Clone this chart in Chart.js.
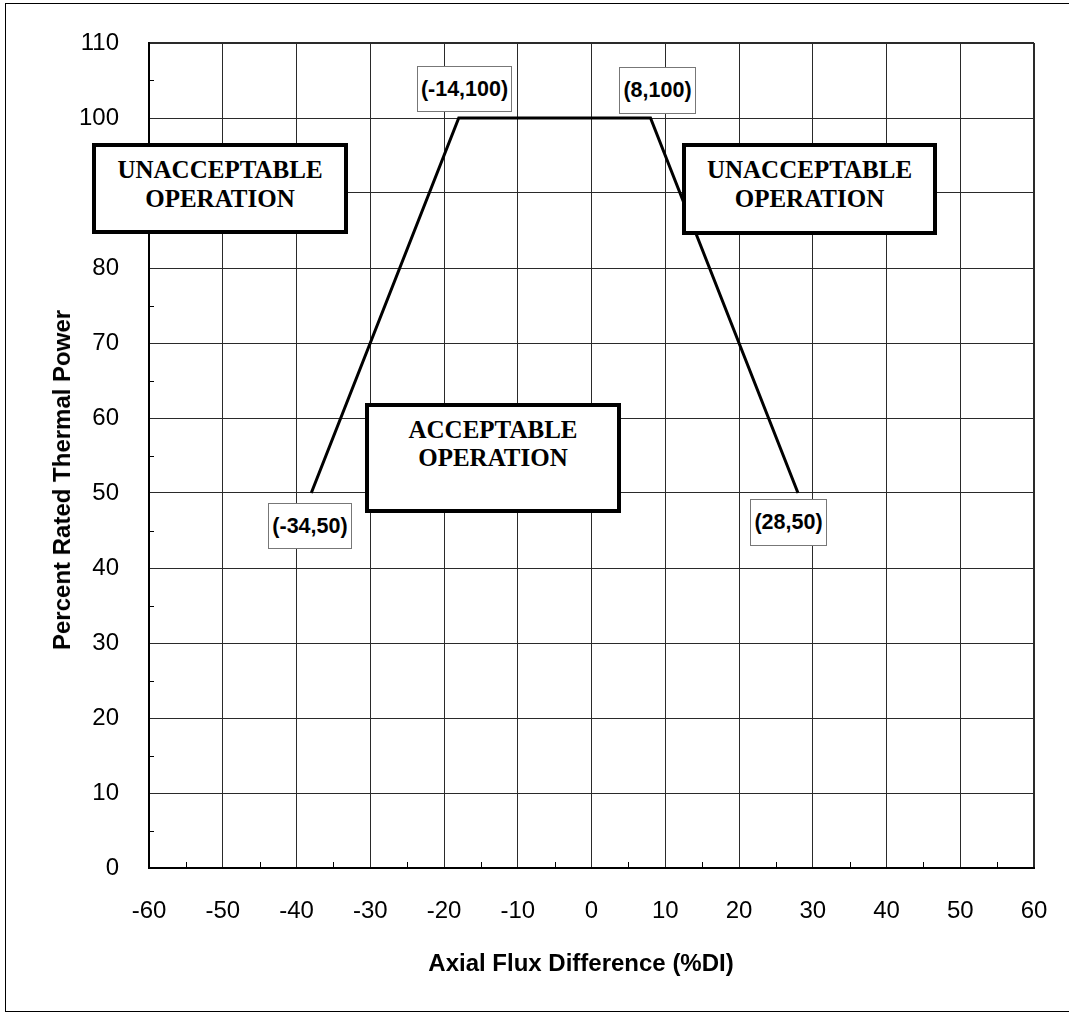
<!DOCTYPE html>
<html>
<head>
<meta charset="utf-8">
<script src="https://cdn.jsdelivr.net/npm/chart.js@4/dist/chart.umd.min.js"></script>
<style>
  html, body { margin: 0; padding: 0; background: #fff; overflow: hidden; }
  #wrap { position: relative; width: 1069px; height: 1015px; overflow: hidden; background: #fff; }
  #c { position: absolute; left: 0; top: 0; }
  .frame { position: absolute; left: 5px; top: 3px; width: 1090px; height: 1009px; border: 1.5px solid #000; box-sizing: border-box; pointer-events: none; }
  .region { position: absolute; box-sizing: border-box; border: 4px solid #000; background: #fff;
            font-family: "Liberation Serif", "Times New Roman", serif; font-weight: bold; font-size: 25px;
            line-height: 29px; text-align: center; color: #000; }
  .pt { position: absolute; box-sizing: border-box; border: 1px solid #777; background: #fff;
        font-family: "Liberation Sans", Arial, sans-serif; font-weight: bold; font-size: 21.5px;
        display: flex; align-items: center; justify-content: center; color: #000; white-space: nowrap; }
  .ttl { position: absolute; font-family: "Liberation Sans", Arial, sans-serif; font-weight: bold; font-size: 24px; color: #000; white-space: nowrap; }
</style>
</head>
<body>
<div id="wrap">
  <canvas id="c" width="1069" height="1015"></canvas>
  <div class="frame"></div>

  <div class="region" style="left:92px; top:143px; width:256px; height:91px; padding-top:8px;">UNACCEPTABLE<br>OPERATION</div>
  <div class="region" style="left:682px; top:143px; width:255px; height:92px; padding-top:8px;">UNACCEPTABLE<br>OPERATION</div>
  <div class="region" style="left:365px; top:403px; width:256px; height:110px; padding-top:9px; line-height:28px;">ACCEPTABLE<br>OPERATION</div>

  <div class="pt" style="left:417px; top:66px; width:95px; height:46px;">(-14,100)</div>
  <div class="pt" style="left:619px; top:67px; width:77px; height:47px;">(8,100)</div>
  <div class="pt" style="left:268px; top:503px; width:84px; height:46px;">(-34,50)</div>
  <div class="pt" style="left:750px; top:499px; width:77px; height:47px;">(28,50)</div>

  <div class="ttl" id="xt" style="left:581px; top:963px; transform: translate(-50%, -50%);">Axial Flux Difference (%DI)</div>
  <div class="ttl" id="yt" style="left:62px; top:480px; transform: translate(-50%, -50%) rotate(-90deg);">Percent Rated Thermal Power</div>
</div>
<script>
// Data
const fluxDifference = [-38, -18, 8, 28];      // x (%DI)
const thermalPower   = [50, 100, 100, 50];     // y (% rated thermal power)
const xTickValues = [-60, -50, -40, -30, -20, -10, 0, 10, 20, 30, 40, 50, 60];
const yTickValues = [0, 10, 20, 30, 40, 50, 60, 70, 80, 90, 100, 110];
const xMinorTicks = [-55, -45, -35, -25, -15, -5, 5, 15, 25, 35, 45, 55];
const yMinorTicks = [5, 15, 25, 35, 45, 55, 65, 75, 85, 95, 105];

const points = fluxDifference.map((x, i) => ({ x: x, y: thermalPower[i] }));

const minorTickPlugin = {
  id: 'minorTicks',
  afterDraw(chart) {
    const ctx = chart.ctx;
    const xs = chart.scales.x, ys = chart.scales.y;
    const area = chart.chartArea;
    ctx.save();
    ctx.strokeStyle = '#000';
    ctx.lineWidth = 1;
    ctx.beginPath();
    xMinorTicks.forEach(v => {
      const px = Math.round(xs.getPixelForValue(v)) + 0.5;
      ctx.moveTo(px, area.bottom);
      ctx.lineTo(px, area.bottom - 6);
    });
    yMinorTicks.forEach(v => {
      const py = Math.round(ys.getPixelForValue(v)) + 0.5;
      ctx.moveTo(area.left, py);
      ctx.lineTo(area.left + 5, py);
    });
    ctx.stroke();
    ctx.restore();
  }
};

new Chart(document.getElementById('c'), {
  type: 'scatter',
  data: {
    datasets: [{
      data: points,
      showLine: true,
      borderColor: '#000',
      borderWidth: 3,
      pointRadius: 0,
      pointHoverRadius: 0,
      fill: false,
      tension: 0,
      borderJoinStyle: 'miter'
    }]
  },
  options: {
    responsive: false,
    animation: false,
    devicePixelRatio: 1,
    events: [],
    layout: { padding: { left: 0, top: 43, right: 35, bottom: 0 } },
    plugins: { legend: { display: false }, tooltip: { enabled: false } },
    scales: {
      x: {
        type: 'linear',
        min: -60, max: 60,
        afterBuildTicks: s => { s.ticks = xTickValues.map(v => ({ value: v })); },
        afterFit: s => { s.height = 147; s.paddingLeft = 0; s.paddingRight = 0; },
        ticks: {
          color: '#000',
          padding: 29,
          font: { family: '"Liberation Sans", Arial, sans-serif', size: 24 },
          maxRotation: 0, autoSkip: false
        },
        grid: {
          color: '#2a2a2a',
          lineWidth: c => (c.tick && c.tick.value === 60 ? 2 : 1),
          drawTicks: false
        },
        border: { display: true, color: '#000', width: 2 }
      },
      y: {
        type: 'linear',
        min: 0, max: 110,
        afterBuildTicks: s => { s.ticks = yTickValues.map(v => ({ value: v })); },
        afterFit: s => { s.width = 149; s.paddingTop = 0; s.paddingBottom = 0; },
        ticks: {
          color: '#000',
          padding: 30,
          font: { family: '"Liberation Sans", Arial, sans-serif', size: 24 },
          autoSkip: false
        },
        grid: {
          color: '#2a2a2a',
          lineWidth: c => (c.tick && c.tick.value === 110 ? 2 : 1),
          drawTicks: false
        },
        border: { display: true, color: '#000', width: 2 }
      }
    }
  },
  plugins: [minorTickPlugin]
});
</script>
</body>
</html>
